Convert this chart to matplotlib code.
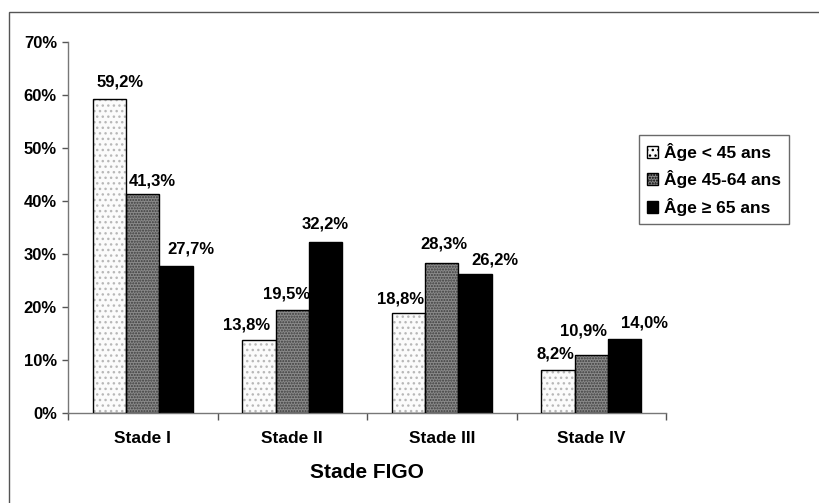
import matplotlib
matplotlib.use("Agg")
import matplotlib.pyplot as plt
from matplotlib.patches import Rectangle, Patch
from matplotlib.ticker import FixedLocator, PercentFormatter
import numpy as np

# données
stades = ["Stade I", "Stade II", "Stade III", "Stade IV"]
groupes = ["Âge < 45 ans", "Âge 45-64 ans", "Âge ≥ 65 ans"]
age_moins_45 = [59.2, 13.8, 18.8, 8.2]
age_45_64 = [41.3, 19.5, 28.3, 10.9]
age_65_plus = [27.7, 32.2, 26.2, 14.0]
yticks = [0, 10, 20, 30, 40, 50, 60, 70]

# décalage manuel des étiquettes (pixels), comme sur l'original
decalages = [
    [(11, 17), (-12, 15), (-8, 14), (-3, 16)],
    [(10, 13), (-6, 16), (2, 19), (-8, 24)],
    [(15, 17), (0, 18), (20, 14), (20, 16)],
]

plt.rcParams["font.family"] = ["Liberation Sans", "DejaVu Sans"]
plt.rcParams["font.weight"] = "bold"

fig = plt.figure(figsize=(8.2, 5.03), dpi=100)
ax = fig.add_axes([68 / 820, 1 - 413 / 503, 598 / 820, 371 / 503])

# cadre extérieur (gauche + haut)
fig.add_artist(Rectangle((9 / 820, -0.05), 1.2, 1 - 12 / 503 + 0.05,
                         transform=fig.transFigure, fill=False,
                         edgecolor="#555555", linewidth=1.0))

x = np.arange(len(stades))
w = 0.222
series = [age_moins_45, age_45_64, age_65_plus]
faces = ["#fbfbfb", "#8a8a8a", "black"]
hatches = ["...", "......", None]
hcolors = ["#b8b8b8", "#3c3c3c", "black"]

for i, vals in enumerate(series):
    pos = x + (i - 1) * w
    # fond + texture
    ax.bar(pos, vals, w, color=faces[i], hatch=hatches[i],
           edgecolor=hcolors[i], linewidth=0, zorder=2)
    # contour noir
    ax.bar(pos, vals, w, fill=False, edgecolor="black", linewidth=1.0,
           zorder=3)
    for j, v in enumerate(vals):
        dx, dy = decalages[i][j]
        ax.annotate(f"{v:.1f}%".replace(".", ","), (pos[j], v),
                    xytext=(dx, dy), textcoords="offset pixels",
                    ha="center", va="center", fontsize=12,
                    fontweight="bold")

ax.set_xlim(-0.5, len(stades) - 0.5)
ax.set_ylim(0, 70)
ax.set_yticks(yticks)
ax.yaxis.set_major_formatter(PercentFormatter(decimals=0))

ax.set_xticks(x)
ax.set_xticklabels(stades)
ax.xaxis.set_minor_locator(FixedLocator(np.arange(-0.5, len(stades), 1.0)))
ax.tick_params(axis="x", which="major", length=0, pad=13, labelsize=12.5)
ax.tick_params(axis="x", which="minor", length=5, width=1, color="#555555")
ax.tick_params(axis="y", length=4, width=1, pad=4, labelsize=12,
               color="#555555")

for s in ["top", "right"]:
    ax.spines[s].set_visible(False)
for s in ["left", "bottom"]:
    ax.spines[s].set_color("#777777")
    ax.spines[s].set_linewidth(1.0)

ax.set_xlabel("Stade FIGO", fontsize=15, fontweight="bold", labelpad=12)

proxies = [Patch(facecolor=faces[i], edgecolor="black", hatch=hatches[i],
                 linewidth=1.0) for i in range(3)]
leg = ax.legend(proxies, groupes, loc="upper left",
                bbox_to_anchor=(639 / 820, 1 - 135 / 503),
                bbox_transform=fig.transFigure, fontsize=12.5,
                frameon=True, fancybox=False, edgecolor="#444444",
                handlelength=0.65, handleheight=0.65, handletextpad=0.35,
                labelspacing=0.55, borderpad=0.45, borderaxespad=0)
leg.get_frame().set_linewidth(1.0)

fig.savefig("out.png", dpi=100)
